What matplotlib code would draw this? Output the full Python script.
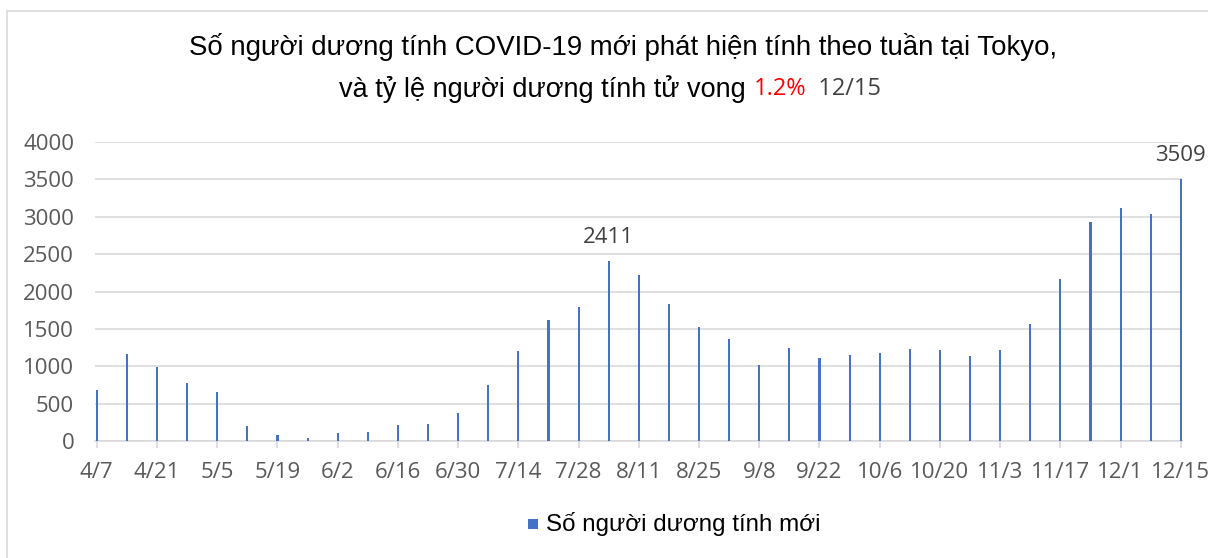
import matplotlib
matplotlib.use("Agg")
import matplotlib.pyplot as plt
from matplotlib.patches import Rectangle

weeks = ["4/7", "4/14", "4/21", "4/28", "5/5", "5/12", "5/19", "5/26", "6/2", "6/9",
         "6/16", "6/23", "6/30", "7/7", "7/14", "7/21", "7/28", "8/4", "8/11", "8/18",
         "8/25", "9/1", "9/8", "9/15", "9/22", "9/29", "10/6", "10/13", "10/20", "10/27",
         "11/3", "11/10", "11/17", "11/24", "12/1", "12/8", "12/15"]
cases = [681, 1161, 996, 774, 654, 196, 76, 44, 107, 116,
         209, 222, 378, 743, 1210, 1624, 1788, 2411, 2224, 1829,
         1526, 1370, 1023, 1250, 1117, 1152, 1183, 1228, 1223, 1143,
         1219, 1566, 2166, 2932, 3114, 3043, 3509]
labelled = {17: "2411", 36: "3509"}
series_name = "Số người dương tính mới"
title1 = "Số người dương tính COVID-19 mới phát hiện tính theo tuần tại Tokyo,"
title2_parts = [("và tỷ lệ người dương tính tử vong ", "#000000", "Liberation Sans", 19.5),
                ("1.2%", "#FF0000", "Open Sans", 17.0),
                ("  12/15", "#404040", "Open Sans", 17.0)]

W, H = 1208, 558
fig = plt.figure(figsize=(W / 100, H / 100), dpi=100)
fig.patch.set_facecolor("white")

# outer border
fig.add_artist(Rectangle((7 / W, -0.05), 1.1, (H - 11) / H + 0.05, transform=fig.transFigure,
                         fill=False, edgecolor="#d9d9d9", linewidth=1.2))

ax = fig.add_axes([95 / W, (H - 441) / H, (1182 - 95) / W, (441 - 142) / H])
x = list(range(len(weeks)))
ax.bar(x, cases, width=0.07, color="#4472C4", zorder=3)
ax.set_xlim(-0.06, len(weeks) - 1 + 0.04)
ax.set_ylim(0, 4000)
ax.set_yticks(range(0, 4001, 500))
ax.yaxis.grid(True, color="#d9d9d9", linewidth=1.2, zorder=0)
ax.set_axisbelow(True)
for s in ["top", "right", "left"]:
    ax.spines[s].set_visible(False)
ax.spines["bottom"].set_color("#d9d9d9")
ax.spines["bottom"].set_linewidth(1.2)
ax.set_xticks(x[::2])
ax.set_xticklabels(weeks[::2])
tickfont = "Open Sans"
ax.tick_params(axis="y", length=0, pad=15, labelsize=16, labelcolor="#595959")
ax.tick_params(axis="x", length=5, color="#d9d9d9", width=1.2, pad=10, labelsize=16,
               labelcolor="#595959")
for lab in ax.get_xticklabels() + ax.get_yticklabels():
    lab.set_fontfamily(tickfont)

for i, txt in labelled.items():
    ax.annotate(txt, (x[i], cases[i]), xytext=(0, 17), textcoords="offset points",
                ha="center", va="center", fontsize=16, color="#404040", family=tickfont)

# title
fig.text(623 / W, 1 - 47 / H, title1, ha="center", va="center", fontsize=19.9,
         family="Liberation Sans", color="#000000")

renderer = fig.canvas.get_renderer()
pieces = []
for t, c, f, sz in title2_parts:
    tx = fig.text(0, 1 - 89 / H, t, ha="left", va="center", fontsize=sz, family=f, color=c)
    pieces.append(tx)
widths = [p.get_window_extent(renderer).width for p in pieces]
total = sum(widths)
start = 610 - total / 2
for p, w in zip(pieces, widths):
    p.set_x(start / W)
    start += w

# legend
fig.add_artist(Rectangle((528 / W, 1 - 529 / H), 10 / W, 10 / H, transform=fig.transFigure,
                         facecolor="#4472C4", edgecolor="none"))
fig.text(546 / W, 1 - 524 / H, series_name, ha="left", va="center", fontsize=17.4,
         family="Liberation Sans", color="#000000")

fig.savefig("out.png", dpi=100, facecolor="white")
